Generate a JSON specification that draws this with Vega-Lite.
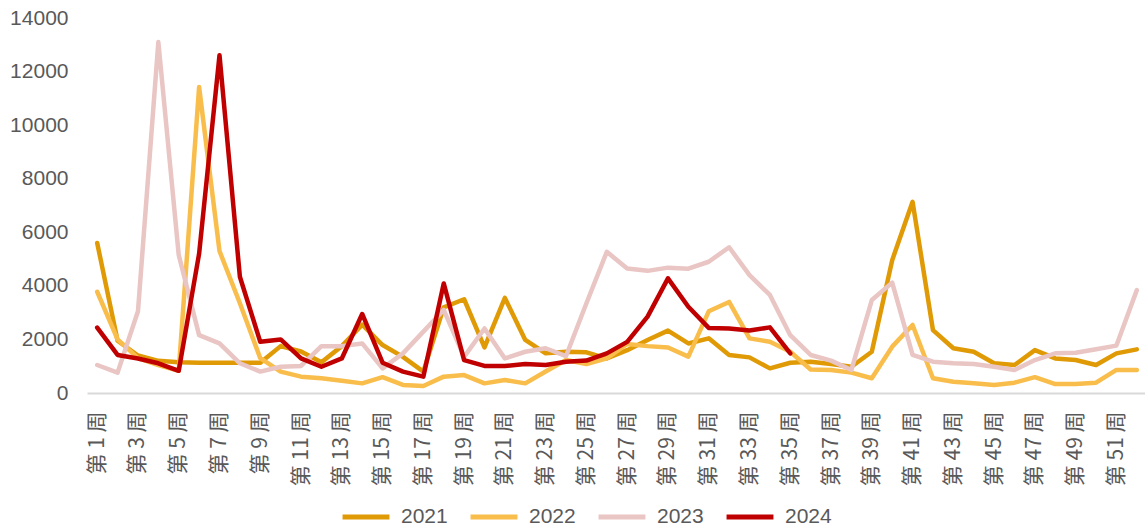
{
 "$schema": "https://vega.github.io/schema/vega-lite/v6.json",
 "width": 1060,
 "height": 375,
 "autosize": {"type": "none"},
 "padding": {"left": 87, "top": 18, "right": 0, "bottom": 138},
 "background": "white",
 "config": {"view": {"stroke": null}},
 "data": {"values": [
  {"week":1,"year":"2021","value":5600},{"week":2,"year":"2021","value":1950},{"week":3,"year":"2021","value":1400},{"week":4,"year":"2021","value":1200},{"week":5,"year":"2021","value":1150},{"week":6,"year":"2021","value":1130},{"week":7,"year":"2021","value":1130},{"week":8,"year":"2021","value":1130},{"week":9,"year":"2021","value":1130},{"week":10,"year":"2021","value":1750},{"week":11,"year":"2021","value":1550},{"week":12,"year":"2021","value":1150},{"week":13,"year":"2021","value":1750},{"week":14,"year":"2021","value":2550},{"week":15,"year":"2021","value":1790},{"week":16,"year":"2021","value":1350},{"week":17,"year":"2021","value":800},{"week":18,"year":"2021","value":3200},{"week":19,"year":"2021","value":3500},{"week":20,"year":"2021","value":1700},{"week":21,"year":"2021","value":3550},{"week":22,"year":"2021","value":1980},{"week":23,"year":"2021","value":1480},{"week":24,"year":"2021","value":1540},{"week":25,"year":"2021","value":1520},{"week":26,"year":"2021","value":1290},{"week":27,"year":"2021","value":1600},{"week":28,"year":"2021","value":1980},{"week":29,"year":"2021","value":2330},{"week":30,"year":"2021","value":1850},{"week":31,"year":"2021","value":2040},{"week":32,"year":"2021","value":1420},{"week":33,"year":"2021","value":1330},{"week":34,"year":"2021","value":920},{"week":35,"year":"2021","value":1130},{"week":36,"year":"2021","value":1170},{"week":37,"year":"2021","value":1080},{"week":38,"year":"2021","value":980},{"week":39,"year":"2021","value":1540},{"week":40,"year":"2021","value":4960},{"week":41,"year":"2021","value":7140},{"week":42,"year":"2021","value":2350},{"week":43,"year":"2021","value":1670},{"week":44,"year":"2021","value":1540},{"week":45,"year":"2021","value":1110},{"week":46,"year":"2021","value":1045},{"week":47,"year":"2021","value":1600},{"week":48,"year":"2021","value":1290},{"week":49,"year":"2021","value":1230},{"week":50,"year":"2021","value":1045},{"week":51,"year":"2021","value":1480},{"week":52,"year":"2021","value":1630},
  {"week":1,"year":"2022","value":3780},{"week":2,"year":"2022","value":2000},{"week":3,"year":"2022","value":1300},{"week":4,"year":"2022","value":1045},{"week":5,"year":"2022","value":830},{"week":6,"year":"2022","value":11420},{"week":7,"year":"2022","value":5300},{"week":8,"year":"2022","value":3350},{"week":9,"year":"2022","value":1300},{"week":10,"year":"2022","value":800},{"week":11,"year":"2022","value":610},{"week":12,"year":"2022","value":550},{"week":13,"year":"2022","value":460},{"week":14,"year":"2022","value":360},{"week":15,"year":"2022","value":590},{"week":16,"year":"2022","value":300},{"week":17,"year":"2022","value":260},{"week":18,"year":"2022","value":610},{"week":19,"year":"2022","value":670},{"week":20,"year":"2022","value":360},{"week":21,"year":"2022","value":485},{"week":22,"year":"2022","value":360},{"week":23,"year":"2022","value":800},{"week":24,"year":"2022","value":1230},{"week":25,"year":"2022","value":1080},{"week":26,"year":"2022","value":1290},{"week":27,"year":"2022","value":1830},{"week":28,"year":"2022","value":1750},{"week":29,"year":"2022","value":1700},{"week":30,"year":"2022","value":1360},{"week":31,"year":"2022","value":3050},{"week":32,"year":"2022","value":3400},{"week":33,"year":"2022","value":2040},{"week":34,"year":"2022","value":1910},{"week":35,"year":"2022","value":1540},{"week":36,"year":"2022","value":880},{"week":37,"year":"2022","value":860},{"week":38,"year":"2022","value":760},{"week":39,"year":"2022","value":550},{"week":40,"year":"2022","value":1730},{"week":41,"year":"2022","value":2540},{"week":42,"year":"2022","value":550},{"week":43,"year":"2022","value":420},{"week":44,"year":"2022","value":360},{"week":45,"year":"2022","value":300},{"week":46,"year":"2022","value":385},{"week":47,"year":"2022","value":590},{"week":48,"year":"2022","value":335},{"week":49,"year":"2022","value":335},{"week":50,"year":"2022","value":385},{"week":51,"year":"2022","value":860},{"week":52,"year":"2022","value":860},
  {"week":1,"year":"2023","value":1045},{"week":2,"year":"2023","value":760},{"week":3,"year":"2023","value":3050},{"week":4,"year":"2023","value":13100},{"week":5,"year":"2023","value":5150},{"week":6,"year":"2023","value":2160},{"week":7,"year":"2023","value":1850},{"week":8,"year":"2023","value":1110},{"week":9,"year":"2023","value":800},{"week":10,"year":"2023","value":980},{"week":11,"year":"2023","value":1010},{"week":12,"year":"2023","value":1750},{"week":13,"year":"2023","value":1750},{"week":14,"year":"2023","value":1850},{"week":15,"year":"2023","value":920},{"week":16,"year":"2023","value":1480},{"week":17,"year":"2023","value":2290},{"week":18,"year":"2023","value":3100},{"week":19,"year":"2023","value":1350},{"week":20,"year":"2023","value":2410},{"week":21,"year":"2023","value":1290},{"week":22,"year":"2023","value":1540},{"week":23,"year":"2023","value":1670},{"week":24,"year":"2023","value":1380},{"week":25,"year":"2023","value":3350},{"week":26,"year":"2023","value":5270},{"week":27,"year":"2023","value":4650},{"week":28,"year":"2023","value":4560},{"week":29,"year":"2023","value":4680},{"week":30,"year":"2023","value":4640},{"week":31,"year":"2023","value":4900},{"week":32,"year":"2023","value":5440},{"week":33,"year":"2023","value":4400},{"week":34,"year":"2023","value":3660},{"week":35,"year":"2023","value":2160},{"week":36,"year":"2023","value":1420},{"week":37,"year":"2023","value":1210},{"week":38,"year":"2023","value":860},{"week":39,"year":"2023","value":3470},{"week":40,"year":"2023","value":4120},{"week":41,"year":"2023","value":1420},{"week":42,"year":"2023","value":1170},{"week":43,"year":"2023","value":1110},{"week":44,"year":"2023","value":1080},{"week":45,"year":"2023","value":980},{"week":46,"year":"2023","value":860},{"week":47,"year":"2023","value":1230},{"week":48,"year":"2023","value":1480},{"week":49,"year":"2023","value":1500},{"week":50,"year":"2023","value":1630},{"week":51,"year":"2023","value":1770},{"week":52,"year":"2023","value":3840},
  {"week":1,"year":"2024","value":2440},{"week":2,"year":"2024","value":1420},{"week":3,"year":"2024","value":1290},{"week":4,"year":"2024","value":1110},{"week":5,"year":"2024","value":830},{"week":6,"year":"2024","value":5200},{"week":7,"year":"2024","value":12610},{"week":8,"year":"2024","value":4340},{"week":9,"year":"2024","value":1910},{"week":10,"year":"2024","value":2000},{"week":11,"year":"2024","value":1290},{"week":12,"year":"2024","value":980},{"week":13,"year":"2024","value":1290},{"week":14,"year":"2024","value":2950},{"week":15,"year":"2024","value":1130},{"week":16,"year":"2024","value":800},{"week":17,"year":"2024","value":610},{"week":18,"year":"2024","value":4090},{"week":19,"year":"2024","value":1230},{"week":20,"year":"2024","value":1010},{"week":21,"year":"2024","value":1010},{"week":22,"year":"2024","value":1080},{"week":23,"year":"2024","value":1045},{"week":24,"year":"2024","value":1170},{"week":25,"year":"2024","value":1210},{"week":26,"year":"2024","value":1480},{"week":27,"year":"2024","value":1910},{"week":28,"year":"2024","value":2850},{"week":29,"year":"2024","value":4280},{"week":30,"year":"2024","value":3220},{"week":31,"year":"2024","value":2430},{"week":32,"year":"2024","value":2410},{"week":33,"year":"2024","value":2330},{"week":34,"year":"2024","value":2450},{"week":35,"year":"2024","value":1480}
 ]},
 "mark": {"type": "line", "strokeWidth": 4.5, "strokeCap": "round", "strokeJoin": "round"},
 "encoding": {
  "x": {
   "field": "week", "type": "ordinal",
   "scale": {"type": "point", "padding": 0.5},
   "axis": {
    "title": null,
    "values": [1,3,5,7,9,11,13,15,17,19,21,23,25,27,29,31,33,35,37,39,41,43,45,47,49,51],
    "labelExpr": "'第 ' + datum.value + ' 周'",
    "labelAngle": -90,
    "labelFont": "Noto Sans CJK SC",
    "labelFontSize": 21,
    "labelColor": "#595959",
    "labelPadding": 18,
    "ticks": false,
    "grid": false,
    "domainColor": "#d9d9d9",
    "domainWidth": 2
   }
  },
  "y": {
   "field": "value", "type": "quantitative",
   "scale": {"domain": [0, 14000], "nice": false},
   "axis": {
    "title": null,
    "values": [0,2000,4000,6000,8000,10000,12000,14000],
    "format": "d",
    "labelFont": "Liberation Sans",
    "labelFontSize": 21,
    "labelColor": "#595959",
    "labelPadding": 19,
    "ticks": false,
    "domain": false,
    "grid": false
   }
  },
  "color": {
   "field": "year", "type": "nominal",
   "scale": {"domain": ["2021","2022","2023","2024"], "range": ["#E09A06","#F9BD4B","#E9C5C4","#C00000"]},
   "legend": {
    "title": null,
    "orient": "none",
    "direction": "horizontal",
    "legendX": 253,
    "legendY": 473,
    "symbolType": "stroke",
    "symbolSize": 2200,
    "symbolStrokeWidth": 5,
    "labelFont": "Liberation Sans",
    "labelFontSize": 21,
    "labelColor": "#595959",
    "labelOffset": 9,
    "columnPadding": 12
   }
  }
 }
}
